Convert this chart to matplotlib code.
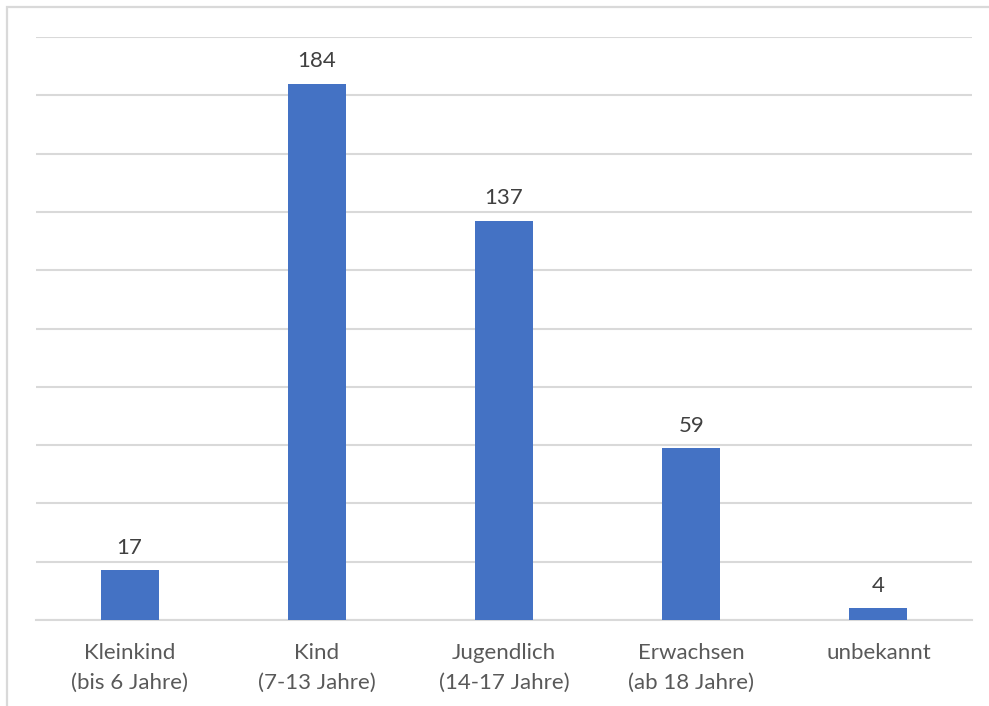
import matplotlib
matplotlib.use("Agg")
import matplotlib.pyplot as plt
from matplotlib.patches import Rectangle

categories = ["Kleinkind\n(bis 6 Jahre)", "Kind\n(7-13 Jahre)", "Jugendlich\n(14-17 Jahre)",
              "Erwachsen\n(ab 18 Jahre)", "unbekannt"]
values = [17, 184, 137, 59, 4]

plt.rcParams["font.family"] = ["Lato", "DejaVu Sans"]

W, H = 989, 706
fig = plt.figure(figsize=(W / 100, H / 100), dpi=100)
ax = fig.add_axes([36 / W, (H - 620) / H, (972 - 36) / W, (620 - 37) / H])

x = range(len(values))
ax.bar(x, values, width=0.31, color="#4472c4", zorder=3)
for xi, v in zip(x, values):
    ax.annotate(str(v), (xi, v), textcoords="offset points", xytext=(0, 9),
                ha="center", va="bottom", fontsize=16, color="#404040")

ax.set_xlim(-0.5, len(values) - 0.5)
ax.set_ylim(0, 200)
ax.set_yticks(range(0, 201, 20))
ax.yaxis.grid(True, color="#d9d9d9", linewidth=1.5, zorder=0)
ax.tick_params(axis="y", left=False, labelleft=False)
ax.tick_params(axis="x", bottom=False, pad=13)
ax.set_xticks(list(x))
ax.set_xticklabels(categories, fontsize=16, color="#595959", linespacing=1.65)
for s in ["top", "right", "left"]:
    ax.spines[s].set_visible(False)
ax.spines["bottom"].set_color("#d9d9d9")
ax.spines["bottom"].set_linewidth(1.5)

# chart-area border (cut off at right and bottom)
fig.patches.append(Rectangle((7 / W, -0.1), 1.2, (H - 7) / H + 0.1, transform=fig.transFigure,
                             fill=False, edgecolor="#d9d9d9", linewidth=1.6))

fig.savefig("out.png", dpi=100)
